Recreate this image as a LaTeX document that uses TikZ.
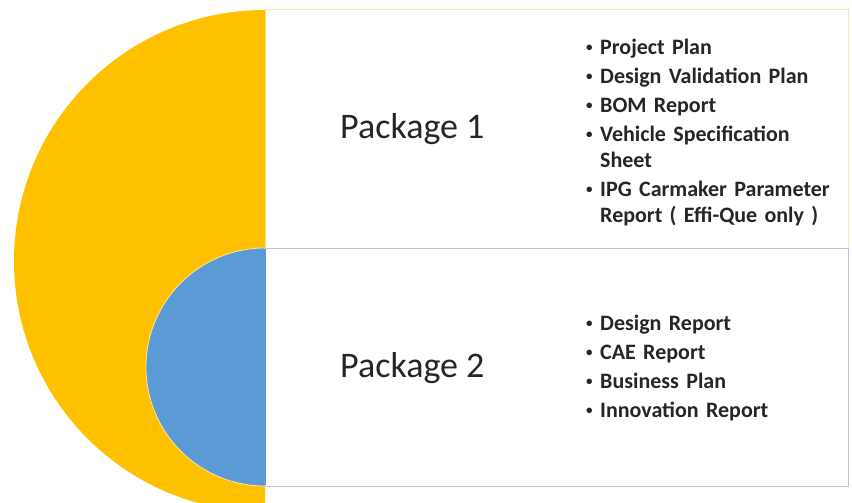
\documentclass[tikz,border=0pt]{standalone}
\usepackage{fontspec}
\setmainfont{Carlito}
\definecolor{pkgyellow}{HTML}{FFC000}
\definecolor{pkgblue}{HTML}{5B9BD5}
\definecolor{topedge}{HTML}{FBE5A8}
\definecolor{botedge}{HTML}{B8C4D4}
\definecolor{txt}{HTML}{262626}
\newcommand{\bitem}[1]{\par\hangindent=14pt\hangafter=1\noindent\makebox[14pt][l]{\raisebox{2.5pt}{\fontsize{13}{13}\selectfont•}}#1\par}
\tikzset{
  pkglabel/.style={anchor=base west, inner sep=0pt, font=\fontsize{36}{40}\selectfont, text=txt},
  pkglist/.style={anchor=north west, inner sep=0pt, text width=250pt, align=left,
     font=\fontsize{22}{26}\selectfont\bfseries, text=txt},
}
\begin{document}
\begin{tikzpicture}[x=1pt,y=1pt]
\useasboundingbox (0,0) rectangle (852,-503);
\clip (0,0) rectangle (852,-503);
% boxes
\draw[topedge, fill=white, line width=1pt] (265,-10) rectangle (848,-248);
\draw[botedge, fill=white, line width=1pt] (265,-248) rectangle (848,-486);
% half discs
\fill[pkgyellow] (265,-10) arc[start angle=90, end angle=270, radius=251] -- cycle;
\draw[pkgyellow!40!white, fill=pkgblue, line width=0.8pt] (265,-248) arc[start angle=90, end angle=270, radius=119] -- cycle;
\fill[pkgblue] (263,-249) rectangle (266,-485);
% labels
\node[pkglabel] (p1) at (340,-138) {Package 1};
\node[pkglabel] (p2) at (340,-377) {Package 2};
\node[pkglist] (l1) at (586,-25) {\raggedright\setlength{\parskip}{3pt}%
\bitem{Project Plan}
\bitem{Design Validation Plan}
\bitem{BOM Report}
\bitem{Vehicle Specification\newline Sheet}
\bitem{IPG Carmaker Parameter\newline Report ( Effi-Que only )}};
\node[pkglist] (l2) at (586,-301) {\raggedright\setlength{\parskip}{3pt}%
\bitem{Design Report}
\bitem{CAE Report}
\bitem{Business Plan}
\bitem{Innovation Report}};
\end{tikzpicture}
\end{document}
